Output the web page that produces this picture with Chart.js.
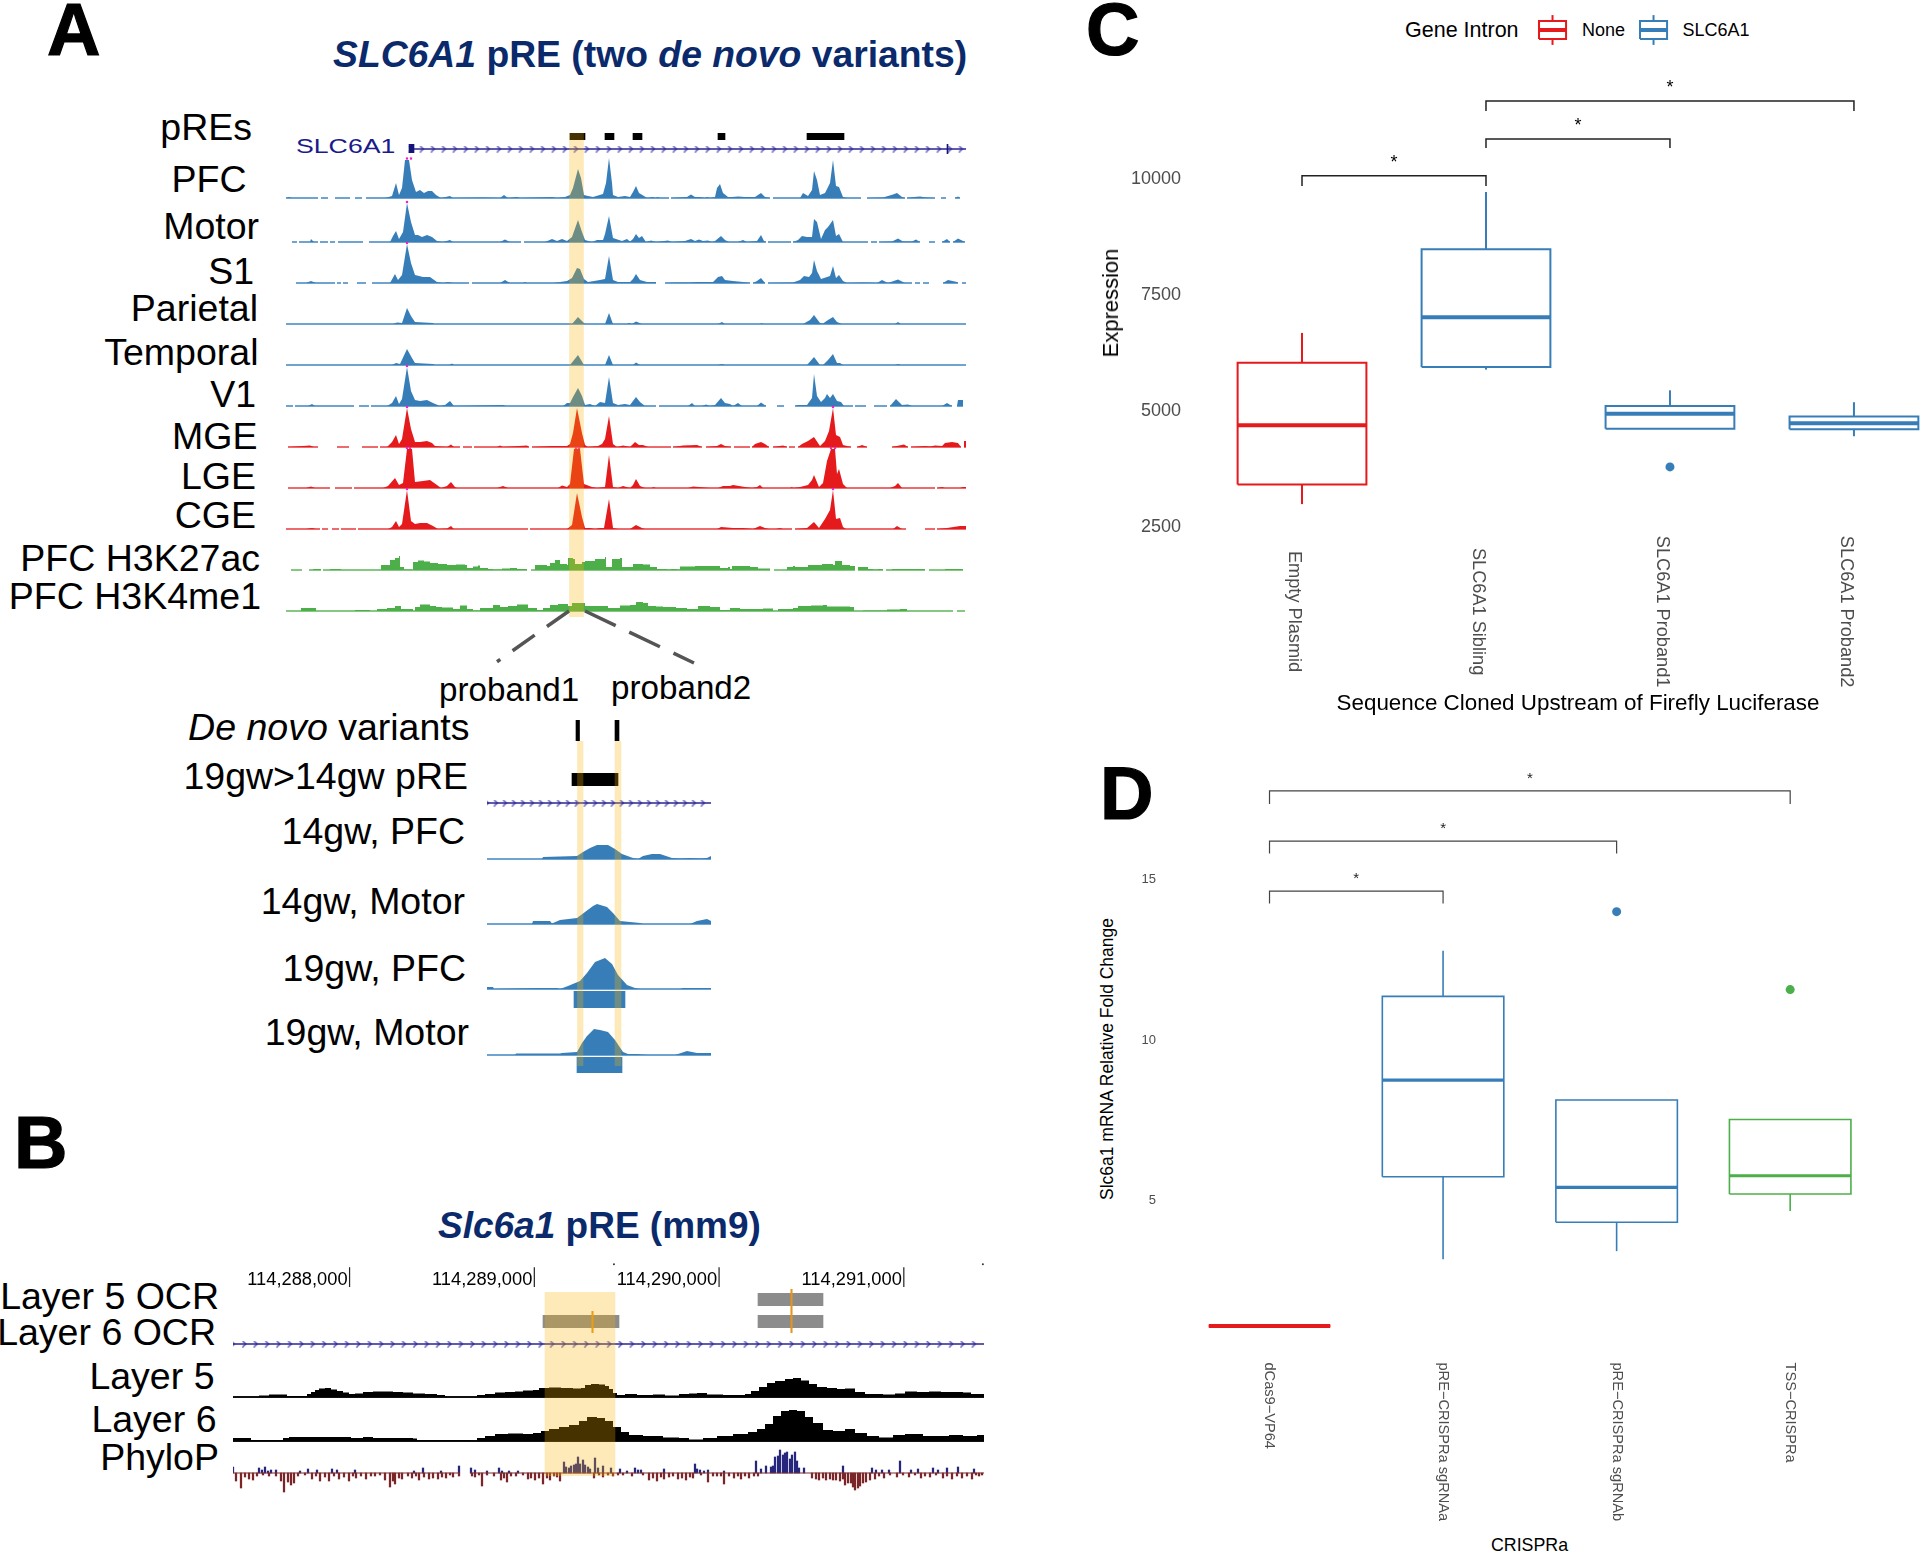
<!doctype html>
<html lang="en">
<head>
<meta charset="utf-8">
<title>SLC6A1 pRE</title>
<style>
  * { margin: 0; padding: 0; }
  body { background: #fff; font-family: "Liberation Sans", sans-serif; }
  #figure { position: relative; width: 1920px; height: 1555px; overflow: hidden; background: #fff; }
  #figure div { position: absolute; white-space: nowrap; line-height: 1; }
  .letter { font-weight: bold; -webkit-text-stroke: 1.2px #000; }
  .title { font-weight: bold; }
</style>
</head>
<body>
<div id="figure"></div>
<script src="https://cdn.jsdelivr.net/npm/chart.js/dist/chart.umd.min.js"></script>
<script>
// ---- panel A tracks: [position, signal], signal null = no data
const pfc = [[0,0],[3,1],[6,0],[32,0],[33,null],[35,0],[42,0],[43,null],[49,0],[64,0],[65,null],[69,0],[76,0],[77,null],[80,0],[99,0],[106,2],[110,15],[113,3],[116,10],[119,38],[123,38],[126,18],[130,6],[134,8],[138,5],[142,7],[146,7],[150,3],[155,0],[164,2],[167,0],[197,0.5],[214,0],[218,3],[222,0],[231,1],[234,0],[266,1],[271,0],[279,1],[284,3],[287,10],[292,29],[295,20],[298,3],[302,2],[307,1],[317,4],[320,15],[323,40],[326,15],[327,3],[332,1],[339,2],[344,1],[347,6],[350,12],[353,5],[358,2],[361,0],[367,1],[369,0],[372,1],[374,0],[383,0],[384,null],[385,0],[401,1],[405,3.5],[409,1],[414,1],[419,0],[421,1],[424,0],[429,1],[431,10],[434,14],[437,5],[442,1],[446,1],[452,1.5],[459,1],[469,1],[475,5],[479,1],[484,0],[485,null],[487,0],[514,0],[517,5],[522,2],[526,8],[528,27],[531,18],[534,3],[539,5],[544,15],[547,38],[550,12],[553,11],[557,1],[561,0],[575,0],[576,null],[581,0],[597,0.5],[607,3.5],[611,5],[616,1],[619,0],[620,null],[621,0],[628,1],[634,1.5],[640,0.5],[649,0],[650,null],[655,0],[660,0],[661,null],[669,0],[672,1.5],[674,0]];
const motor = [[6,0],[11,0],[12,null],[13,0],[24,0],[25,3],[28,0],[32,0],[33,null],[34,0],[42,0],[43,null],[44,0],[49,0],[50,null],[52,0],[77,0],[78,null],[83,0],[104,0],[107,6],[110,11],[113,3],[117,10],[121,39],[125,20],[129,7],[132,7],[136,5],[141,7],[146,5],[151,1],[157,0],[164,2],[167,0],[214,0],[219,2.5],[224,0],[235,0],[236,null],[238,0],[259,0],[266,3],[271,1],[276,3],[281,1],[286,5],[292,22],[296,10],[299,2],[306,0],[311,2],[317,2],[319,8],[323,26],[327,4],[336,1],[341,3],[344,0.5],[347,3],[350,8],[353,4],[356,6],[360,0],[365,1.5],[370,0],[382,1.5],[386,0],[399,1],[405,3],[409,1],[413,2.5],[417,1],[422,1.5],[426,0],[429,1],[435,6],[439,2],[443,0],[452,0],[457,2],[461,0],[471,1],[475,7],[478,1],[480,0],[481,null],[482,0],[505,0],[506,null],[507,0],[512,2],[516,6],[521,5],[526,5],[528,23],[531,20],[535,3],[539,12],[542,15],[547,22],[550,6],[553,8],[557,0],[582,0],[583,null],[585,0],[591,0],[592,null],[593,0],[606,0.5],[612,3.5],[617,0.5],[626,0.5],[630,2.5],[634,0],[635,null],[643,0],[649,0],[650,null],[656,0],[661,3],[664,0],[665,null],[667,0],[672,3.5],[679,0]];
const s1 = [[10,0],[20,0],[25,2],[30,0],[49,0],[50,null],[51,0],[55,0],[56,null],[57,0],[62,0],[63,null],[71,0],[80,0],[81,null],[86,0],[104,0],[109,9],[112,3],[116,8],[121,39],[125,20],[129,8],[137,6],[144,6],[151,1],[157,0],[162,1],[167,0],[183,0],[184,null],[186,0],[214,0],[219,3],[224,0],[237,0],[239,1],[241,0],[267,0],[281,2],[286,5],[291,15],[294,14],[298,4],[302,1],[314,3],[319,4],[323,27],[327,3],[332,1],[344,1],[347,4],[350,9],[354,3],[361,1],[370,1],[371,null],[379,0],[389,0.5],[404,0.5],[411,1],[427,1],[432,6],[436,7],[439,3],[447,2],[457,1],[464,0],[465,null],[467,0],[471,2],[475,5],[479,0],[480,null],[482,0],[507,0.5],[514,3],[518,7],[523,6],[526,10],[528,23],[531,12],[535,4],[541,6],[544,7],[547,17],[550,5],[553,8],[557,2],[561,0],[577,0.5],[591,0],[596,3],[602,0],[612,3.5],[619,0],[626,0],[627,null],[629,0],[634,0],[635,null],[637,0],[643,0],[644,null],[657,0],[662,3],[671,1],[672,0],[673,null],[676,0],[680,0]];
const parietal = [[0,0],[107,0],[111,1.5],[116,1],[121,16],[125,8],[129,2],[147,1],[148,0],[286,0],[292,7],[299,0],[319,0],[323,11],[327,0],[341,0],[343,1],[346,0],[350,2.5],[356,0],[432,0],[436,2],[439,0],[474,0],[476,1],[477,0],[517,0],[524,4],[528,9],[534,1],[537,0.5],[542,4],[547,7],[551,2],[556,0],[609,0],[612,2],[615,0],[680,0]];
const temporal = [[0,0],[106,0],[110,2],[114,1],[121,16],[126,7],[129,2],[147,1],[149,0],[163,0],[166,1.5],[168,0],[284,0],[292,10],[298,0],[319,0],[323,10],[327,0],[347,0],[350,2.5],[354,0],[432,0],[436,1],[439,0],[521,0],[528,8],[534,0],[537,0],[542,5],[547,11],[551,2],[554,2],[557,0],[609,0],[612,1],[615,0],[680,0]];
const v1 = [[0,0],[7,0],[8,null],[9,0],[22,0],[26,2],[29,0],[68,0],[69,null],[73,0],[83,0],[84,null],[85,0],[101,0],[106,3],[110,10],[113,2],[116,7],[121,39],[125,15],[129,6],[134,5],[141,6],[147,3],[154,0],[159,1],[164,5],[168,0],[217,1],[220,0],[277,0],[281,3],[284,3],[287,9],[292,18],[296,10],[299,1],[304,2],[309,0],[314,4],[319,3],[323,29],[327,3],[332,1],[339,2],[344,1],[350,9],[354,4],[359,0],[370,0],[371,null],[373,0],[402,0],[406,3],[409,0],[416,0],[420,1.5],[424,0],[429,1],[435,8],[439,3],[444,2],[447,0],[452,3],[456,0],[471,0],[475,3.5],[480,0],[481,null],[491,0],[498,0],[499,null],[509,0],[512,1],[521,1],[526,8],[528,32],[531,10],[535,4],[539,8],[541,12],[544,8],[547,12],[551,5],[555,4],[558,0],[567,0],[568,null],[569,0],[580,0],[581,null],[588,0],[601,0],[602,null],[604,0],[610,7],[616,1],[622,1.5],[626,0],[656,0],[661,3],[666,0],[667,null],[671,0],[672,6],[677,6],[677.5,null]];
const mge = [[2,0],[24,1.5],[28,0],[32,0],[33,null],[51,0],[63,0],[64,null],[76,0],[92,0],[93,null],[94,0],[101,0],[106,5],[110,12],[113,3],[116,8],[121,39],[125,18],[129,5],[134,5],[141,6],[146,4],[149,1],[154,0.5],[161,0],[165,2.5],[168,0],[174,0],[175,null],[177,0],[186,0],[187,null],[188,0],[211,0],[214,1.5],[217,0],[241,1.5],[243,0],[244,null],[246,0],[266,1],[281,1],[284,3],[287,14],[291,39],[296,14],[299,2],[302,0],[312,1],[316,3],[319,8],[323,31],[327,3],[331,0],[337,1.5],[344,0],[349,5],[353,2],[357,2],[362,0],[385,0],[386,null],[387,0],[397,1.5],[411,2],[416,0],[417,null],[420,0],[431,1],[435,3],[439,1],[445,0],[446,null],[448,0],[464,0],[465,null],[466,0],[469,3],[475,5],[479,3],[483,0],[484,null],[487,0],[497,1.5],[501,0],[502,null],[503,0],[509,0],[510,null],[512,0],[516,3],[522,6],[528,10],[534,1],[539,6],[543,16],[547,39],[550,12],[554,10],[557,2],[561,1],[565,0],[566,null],[571,0],[576,2],[581,0],[582,null],[606,0],[618,2.5],[622,0],[623,null],[625,0],[639,1],[644,0.5],[649,1.5],[656,1],[659,4],[666,5],[672,4],[675,0],[676,null],[678,6],[680,6]];
const lge = [[2,0],[20,0],[25,1.5],[29,0],[44,0],[45,null],[49,0],[66,0],[67,null],[68,0],[97,0],[102,2],[109,10],[113,3],[117,5],[121,39],[126,39],[129,6],[137,7],[144,8],[151,3],[155,0],[161,2],[165,6],[169,1],[171,0],[211,0],[217,2],[222,0],[272,0],[276,2.5],[281,1],[284,4],[288,39],[294,39],[298,4],[306,1],[311,0],[319,1],[323,33],[327,1],[332,0],[337,2],[344,0],[347,3],[350,9],[354,2],[359,0],[366,0],[367,1],[370,0],[402,0],[407,1.5],[424,0],[432,0],[437,2],[444,2],[447,3],[459,1],[466,0],[471,1],[474,3],[477,0],[504,0],[506,1],[507,0],[514,1],[522,3],[526,8],[528,13],[533,1],[537,5],[541,27],[545,39],[549,39],[551,14],[553,19],[557,4],[561,0],[604,0],[609,2],[612,5],[616,0],[649,0],[650,null],[651,0],[656,1],[659,0],[674,0],[677,1],[680,1]];
const cge = [[0,0],[20,0],[26,1],[30,0],[34,0],[35,null],[36,0],[42,0],[43,null],[46,0],[53,0],[54,null],[55,0],[70,0],[71,null],[72,0],[102,0],[106,2],[110,8],[113,2],[116,5],[121,39],[125,8],[129,5],[134,6],[141,6],[147,3],[152,0],[161,0.5],[165,3],[168,0],[242,0],[243,null],[244,0],[281,0],[286,4],[291,36],[296,12],[299,1],[304,1],[309,0],[314,1],[318,1],[323,30],[327,1],[332,0],[344,0],[350,4],[356,1],[359,0],[431,0],[435,2],[447,1],[457,1],[467,0],[474,3],[479,1],[483,0],[490,0],[494,1],[497,0],[506,0],[507,null],[509,0],[521,1],[528,7],[533,1],[539,10],[544,19],[547,39],[550,10],[554,11],[557,2],[560,0],[607,0],[611,3],[616,0],[620,0],[621,null],[639,0],[649,0],[650,null],[651,0],[661,1],[674,3],[680,3]];
const h3k27ac = [[5,0],[16,0],[17,null],[23,0],[27,1],[35,1],[36,null],[37,0],[44,1],[52,1],[55,0],[94,0],[95,5],[103,5],[104,10],[109,12],[113,14],[114,3],[118,0.5],[126,0],[127,8],[132,9.5],[138,8.5],[144,7],[152,6],[161,5],[170,5.5],[179,5],[181,2],[187,3.5],[192,4.5],[194,2],[202,1],[207,0.5],[216,1.5],[224,2],[231,1],[241,0],[242,null],[245,0],[249,5],[261,4],[264,7],[269,10],[272,10],[274,6],[281,5],[282,12],[287,11],[289,6],[296,8],[299,9],[309,11],[319,13],[320,3],[325,3],[326,11],[334,12],[336,3],[344,3],[347,6],[357,5.5],[364,3],[371,1],[381,0.5],[385,1],[391,0.5],[394,3.5],[409,4],[424,4],[434,2],[442,3],[444,1],[446,4],[464,3],[472,1.5],[484,1],[485,null],[488,0],[501,3],[507,4],[509,3],[521,3],[522,5],[536,6],[547,5],[549,9],[554,9],[556,5],[564,4],[569,0],[570,null],[572,3],[582,1],[587,0.5],[592,1],[597,0],[598,null],[600,0],[606,1],[639,0],[640,null],[643,0],[659,1],[677,0]];
const h3k4me1 = [[0,0],[14,0],[15,3],[29,3],[30,0],[64,0],[69,1],[84,0],[91,2],[101,3],[109,5],[113,5],[115,2],[127,0],[129,4],[134,6.5],[144,5],[150,4],[156,3.5],[167,2],[174,5.5],[181,2],[187,0.5],[194,3],[207,6],[214,4],[222,5],[231,6.5],[242,3],[251,1],[257,3],[264,6],[272,7],[282,5],[286,8],[296,8],[299,5],[311,5],[322,3],[334,5.5],[344,6],[350,9],[357,8],[362,5],[370,4.5],[377,4],[390,3],[401,2],[412,5],[424,4],[434,1],[444,3],[454,2],[477,2.5],[487,0],[492,2],[507,3],[512,5],[525,5.5],[537,6],[541,4.5],[564,4],[568,0],[577,0.5],[601,1.5],[614,2],[621,0],[667,0],[668,null],[671,0],[679,1]];
// saturated peak caps
const pfcCaps = [[121,39.5],[125,39.5]];
const motorCaps = [[121,40]];
const s1Caps = [[121,40]];
const v1Caps = [[121,40]];
const mgeCaps = [[121,40],[547,40]];
const lgeCaps = [[121,40],[124,40],[290,40],[293,40],[545,40],[549,40]];
const cgeCaps = [[121,40],[547,40]];

// ---- panel A, zoomed pRE tracks
const pfc14 = [[0,0],[45,0],[55,0],[56,2],[90,3],[96,7],[103,11],[110,14],[121,14],[128,10],[135,5],[146,1],[151,0],[156,3],[165,5],[173,5],[185,1],[193,0.5],[203,1],[213,0.5],[220,1],[224,3]];
const motor14 = [[0,0],[45,0],[46,3],[63,3],[65,0.5],[73,4],[90,6],[98,12],[106,18],[110,20],[120,17],[126,11],[133,3],[143,2],[153,1],[156,0],[203,0],[210,3],[220,5],[224,3]];
const pfc19 = [[0,2],[6,2],[7,0],[51,1],[70,1],[73,0],[81,3],[93,8],[100,16],[108,27],[118,31],[125,25],[131,14],[140,4],[148,1],[153,0],[193,0],[196,1],[224,1]];
const motor19 = [[0,0],[28,0],[29,1.5],[73,1.5],[75,2],[90,3],[95,12],[100,19],[107,26],[113,25],[121,23],[128,15],[136,3],[141,1],[150,1],[160,0],[188,0],[200,4],[210,2],[224,2]];

// ---- panel B tracks
const layer5 = [[0,0],[24,0],[26,1.5],[36,2.5],[50,2.5],[54,1],[70,1],[74,3],[78,5],[82,7],[86,8.5],[92,9],[98,7.5],[104,6],[110,4.5],[116,3],[122,3.5],[130,5],[140,5.5],[150,5.5],[160,5],[170,4.5],[180,3.5],[192,3],[204,2],[212,0.5],[214,0],[242,0],[244,2],[252,3],[262,4.5],[272,5],[282,5.5],[290,6.5],[300,7],[306,9],[316,9.5],[328,9],[340,8.5],[348,9],[352,12],[358,13],[366,12.5],[372,11],[376,8],[380,4],[384,2],[392,3],[404,2],[420,2.5],[432,1.5],[446,3],[456,3.5],[464,4],[474,2.5],[490,2],[504,2],[512,3],[518,6],[526,10],[534,14],[542,16],[552,18],[560,19],[568,16.5],[576,13],[584,10],[594,9],[604,8],[612,8.5],[622,5],[632,3],[650,2.5],[662,3.5],[672,5.5],[684,5],[696,5.5],[708,5],[720,5],[730,4.5],[738,3],[751,2.5]];
const layer6 = [[0,3],[16,3],[18,1],[46,1],[50,3],[56,4],[80,4],[110,4],[118,3],[130,4],[140,3],[160,3],[180,2.5],[184,1],[238,0.5],[244,3],[252,5],[262,7],[275,7.5],[290,7],[300,8],[308,10],[316,12],[326,14],[336,16],[346,20],[354,24],[364,23],[372,20],[380,14],[388,9],[396,6],[410,5],[430,3.5],[446,3],[456,1.5],[470,3],[484,5],[500,7],[515,9],[524,12],[532,17],[540,25],[548,30],[556,31],[564,30],[572,24],[580,18],[590,11],[600,10],[612,12],[622,8],[634,5],[646,3.5],[660,6],[672,7],[690,5],[704,5],[716,6],[730,5],[744,6],[751,7]];
const phyloDown = [[3,-8],[8,-15],[12,-4],[16,-6],[20,-7],[24,-3],[30,-2],[36,-3],[43,-3],[48,-8],[51,-19],[55,-9],[58,-12],[61,-10],[65,-3],[72,-2],[79,-6],[83,-3],[87,-8],[92,-4],[96,-8],[101,-3],[106,-6],[111,-4],[116,-8],[120,-3],[123,-5],[128,-3],[133,-6],[138,-3],[142,-3],[147,-2],[152,-7],[157,-14],[160,-8],[162,-11],[166,-5],[169,-6],[175,-3],[179,-5],[183,-3],[186,-7],[191,-4],[196,-6],[200,-5],[205,-6],[209,-4],[213,-5],[217,-2],[220,-4],[226,-3],[239,-3],[242,-4],[246,-2],[249,-13],[254,-2],[261,-3],[268,-7],[271,-5],[274,-9],[278,-3],[283,-3],[290,-2],[295,-6],[298,-5],[302,-7],[306,-5],[310,-11],[314,-5],[317,-7],[321,-3],[324,-4],[327,-8],[361,-5],[366,-2],[370,-4],[375,-2],[380,-3],[385,-2],[390,-2],[399,-3],[410,-2],[416,-7],[420,-5],[424,-8],[428,-4],[431,-6],[436,-4],[440,-3],[445,-6],[449,-5],[453,-7],[457,-4],[460,-5],[468,-2],[475,-9],[480,-3],[484,-3],[488,-3],[491,-11],[496,-3],[501,-5],[505,-3],[508,-6],[512,-3],[516,-5],[521,-3],[525,-3],[579,-5],[583,-6],[586,-7],[590,-5],[593,-7],[597,-6],[600,-7],[603,-7],[607,-8],[610,-6],[612,-12],[615,-10],[618,-10],[620,-14],[622,-17],[625,-15],[627,-13],[630,-10],[633,-9],[637,-7],[642,-6],[646,-3],[651,-5],[657,-2],[664,-4],[670,-2],[676,-4],[682,-2],[688,-5],[692,-3],[697,-4],[703,-2],[710,-5],[714,-3],[719,-6],[724,-3],[729,-5],[734,-3],[739,-6],[743,-2],[746,-3],[749,-2]];
const phyloUp = [[0,6],[26,5],[29,3],[32,6],[35,2],[38,3],[43,3],[67,2],[75,4],[84,3],[99,4],[104,3],[122,3],[181,2],[190,5],[208,2],[226,7],[238,5],[242,3],[254,2],[266,5],[269,2],[276,2],[285,2],[331,11],[333,6],[336,5],[338,7],[341,8],[343,9],[345,16],[347,9],[350,13],[352,8],[355,6],[357,4],[362,15],[365,5],[370,7],[378,5],[387,4],[394,2],[402,5],[405,3],[408,3],[431,4],[462,9],[464,4],[467,3],[471,2],[475,3],[491,2],[523,12],[528,4],[533,7],[538,6],[540,7],[542,16],[545,17],[547,23],[550,18],[552,20],[554,21],[557,14],[559,18],[562,21],[564,12],[566,5],[571,5],[610,7],[639,5],[643,3],[649,3],[656,3],[667,12],[678,3],[685,4],[700,5],[705,3],[714,5],[725,6],[741,4]];
const phyloSpans = [[0,227],[237,751]];
const rulerTicks = [114288000, 114289000, 114290000, 114291000];
const rulerDots = [114289431, 114291428];

// ---- intervals [start, end]
const pREs = [[284,299],[319,328],[347,356],[432,439],[521,535],[535,558]];
const denovoSites = [[89,92.5],[128,132]];
const denovoPre = [[85,131]];
const denovoBands = [[90.5,96],[128,134]];
const peakCallPfc = [[87,138]];
const peakCallMotor = [[90,135]];
const geneExonA = [[123,128]];
const geneEndA = [[661,662]];
const l5Ocr = [[525,590]];
const l6Ocr = [[310,386],[525,590]];
const ocrSnpLeft = [[358.8,360.2]];
const ocrSnpRight = [[557.8,559.2]];

// ---- panel C
const cCategories = ['Empty Plasmid', 'SLC6A1 Sibling', 'SLC6A1 Proband1', 'SLC6A1 Proband2'];
const cTicks = [2500, 5000, 7500, 10000];
const emptyStats = [2935, 3360, 4634, 5980, 6622];
const siblingStats = [5832, 5890, 6958, 8423, 9658];
const proband1Stats = [4557, 4557, 4882, 5050, 5386];
const proband2Stats = [4397, 4546, 4675, 4823, 5130];
const proband1Outliers = [3736];
const cBrackets = [[0, 1, 10005, 9787], [1, 2, 10798, 10604], [1, 3, 11615, 11400]];

// ---- panel D
const dCategories = ['dCas9\u2212VP64', 'pRE\u2212CRISPRa sgRNAa', 'pRE\u2212CRISPRa sgRNAb', 'TSS\u2212CRISPRa'];
const dTicks = [5, 10, 15];
const dcasStats = [1.02, 1.02, 1.02, 1.02, 1.02];
const sgaStats = [3.10, 5.67, 8.68, 11.29, 12.71];
const sgbStats = [3.35, 4.25, 5.34, 8.06, 8.06];
const tssStats = [4.60, 5.13, 5.70, 7.45, 7.45];
const sgbOutliers = [13.93];
const tssOutliers = [11.5];
const dBrackets = [[0, 1, 14.57, 14.18], [0, 2, 16.13, 15.74], [0, 3, 17.69, 17.28]];

const BLUE = '#377eb8', RED = '#e41a1c', GREEN = '#4daf4a';
const BLUE_BASE = '#6fa3d0', RED_BASE = '#ee6b6d', GREEN_BASE = '#85c882';
const BAND = 'rgba(250, 180, 0, 0.28)';
const NAVY = '#0b2a6b';

Chart.defaults.font.family = '"Liberation Sans", sans-serif';
const fig = document.getElementById('figure');

function addCanvas(left, top, width, height) {
  const c = document.createElement('canvas');
  c.width = width;
  c.height = height;
  c.style.cssText = `position:absolute;left:${left}px;top:${top}px`;
  fig.appendChild(c);
  return c;
}

function addText(html, x, y, size, opts = {}) {
  const d = document.createElement('div');
  d.innerHTML = html;
  const shift = opts.align === 'right' ? 'translate(-100%,-50%)' : opts.align === 'center' ? 'translate(-50%,-50%)' : 'translateY(-50%)';
  d.style.cssText = `left:${x}px;top:${y}px;font-size:${size}px;color:${opts.color || '#000'};transform:${shift} ${opts.extra || ''};transform-origin:${opts.origin || '50% 50%'}`;
  if (opts.cls) d.className = opts.cls;
  fig.appendChild(d);
}

function baseOptions(xMin, xMax, yMin, yMax) {
  return {
    responsive: false,
    animation: false,
    events: [],
    layout: { autoPadding: false },
    plugins: { legend: { display: false }, tooltip: { enabled: false } },
    scales: {
      x: { type: 'linear', display: false, min: xMin, max: xMax },
      y: { type: 'linear', display: false, min: yMin, max: yMax }
    }
  };
}

// places text at data coordinates of a chart
function textAt(items) {
  return {
    id: 'textAt',
    afterDatasetsDraw(chart) {
      const { ctx, scales } = chart;
      items.forEach(t => {
        ctx.save();
        ctx.translate(scales.x.getPixelForValue(t.x), scales.y.getPixelForValue(t.y));
        if (t.rotate) ctx.rotate(t.rotate);
        ctx.font = t.font;
        ctx.fillStyle = t.color || '#000';
        ctx.textAlign = t.align || 'center';
        ctx.textBaseline = t.baseline || 'middle';
        ctx.fillText(t.text, t.dx || 0, t.dy || 0);
        ctx.restore();
      });
    }
  };
}

// one genome signal track; the base argument is where signal 0 sits
function track(left, base, width, yTop, signal, fill, line, caps, stepped = false) {
  const pts = signal.map(p => ({ x: p[0], y: p[1] }));
  const datasets = [
    { data: pts, borderWidth: 0, pointRadius: 0, fill: 'origin', backgroundColor: fill, tension: 0, spanGaps: false, stepped },
    { data: pts.map(p => ({ x: p.x, y: p.y === null ? null : 0 })), borderColor: line, borderWidth: 2, pointRadius: 0, spanGaps: false }
  ];
  if (caps) {
    datasets.push({ data: caps.map(p => ({ x: p[0], y: p[1] })), showLine: false, pointStyle: 'rect', pointRadius: 1.6, backgroundColor: '#f020d0', borderWidth: 0 });
  }
  new Chart(addCanvas(left, base - yTop, width, yTop + 2), { type: 'line', data: { datasets }, options: baseOptions(0, width, -2, yTop) });
}

// horizontal floating bars in track coordinates
function intervals(left, top, width, height, xMax, spans, color) {
  const options = baseOptions(0, xMax, 0, 1);
  options.indexAxis = 'y';
  options.scales.y = { type: 'category', display: false };
  const datasets = spans.map(s => ({ data: [s], backgroundColor: color, barPercentage: 1, categoryPercentage: 1, grouped: false, borderWidth: 0 }));
  new Chart(addCanvas(left, top, width, height), { type: 'bar', data: { labels: [''], datasets }, options });
}

function chevron() {
  const c = document.createElement('canvas');
  c.width = 7; c.height = 7;
  const g = c.getContext('2d');
  g.strokeStyle = '#4640ac';
  g.lineWidth = 1.2;
  g.beginPath(); g.moveTo(1.5, 0.5); g.lineTo(5, 3.5); g.lineTo(1.5, 6.5); g.stroke();
  return c;
}

function geneLine(left, y, width, from, to, step) {
  const marks = [];
  for (let x = from; x <= to; x += step) marks.push({ x, y: 0 });
  new Chart(addCanvas(left, y - 5, width, 10), {
    type: 'line',
    data: { datasets: [
      { data: [{ x: from, y: 0 }, { x: to, y: 0 }], borderColor: '#2a2490', borderWidth: 1.4, pointRadius: 0 },
      { data: marks, showLine: false, pointStyle: chevron(), pointRadius: 3 }
    ] },
    options: baseOptions(0, width, -1, 1)
  });
}

function boxDatasets(pos, half, stats, color, outliers, weight = 2) {
  const [low, q1, med, q3, high] = stats;
  const line = (data, w) => ({ data, borderColor: color, borderWidth: w, pointRadius: 0, tension: 0, borderCapStyle: 'butt' });
  const sets = [
    line([{ x: pos, y: q3 }, { x: pos, y: high }], weight),
    line([{ x: pos, y: low }, { x: pos, y: q1 }], weight),
    line([{ x: pos - half, y: q1 }, { x: pos + half, y: q1 }, { x: pos + half, y: q3 }, { x: pos - half, y: q3 }, { x: pos - half, y: q1 }], weight),
    line([{ x: pos - half, y: med }, { x: pos + half, y: med }], weight * 2)
  ];
  if (outliers) sets.push({ data: outliers.map(v => ({ x: pos, y: v })), showLine: false, pointRadius: 4.5, backgroundColor: color, borderWidth: 0 });
  return sets;
}

function bracketDatasets(list, color, w) {
  return list.map(b => ({
    data: [{ x: b[0], y: b[3] }, { x: b[0], y: b[2] }, { x: b[1], y: b[2] }, { x: b[1], y: b[3] }],
    borderColor: color, borderWidth: w, pointRadius: 0, tension: 0
  }));
}

function boxPlot(box, axisWidth, xRange, yRange, padBottom, ticks, tickFont, datasets, labels) {
  const options = baseOptions(xRange[0], xRange[1], yRange[0], yRange[1]);
  options.layout = { autoPadding: false, padding: { bottom: padBottom } };
  options.scales.y = {
    type: 'linear', min: yRange[0], max: yRange[1],
    grid: { display: false }, border: { display: false },
    ticks: { color: '#4d4d4d', font: { size: tickFont }, padding: -4, labelOffset: 2.5, callback: v => String(v) },
    afterBuildTicks: s => { s.ticks = ticks.map(v => ({ value: v })); },
    afterFit: s => { s.width = axisWidth; s.paddingTop = 0; s.paddingBottom = 0; }
  };
  new Chart(addCanvas(box[0], box[1], box[2], box[3]), { type: 'line', data: { datasets }, options, plugins: [textAt(labels)] });
}

// ==== panel letters and titles
addText('A', 47, 29.5, 74, { cls: 'letter' });
addText('B', 14, 1143, 74, { cls: 'letter' });
addText('C', 1086, 30, 74, { cls: 'letter' });
addText('D', 1100, 794, 74, { cls: 'letter' });
addText('<i>SLC6A1</i> pRE (two <i>de novo</i> variants)', 333, 55, 37.3, { cls: 'title', color: NAVY });
addText('<i>Slc6a1</i> pRE (mm9)', 438, 1225, 37, { cls: 'title', color: NAVY });

// ==== panel A
[['pREs', 252, 128], ['PFC', 246.5, 180], ['Motor', 259, 227], ['S1', 254, 272], ['Parietal', 258, 309],
 ['Temporal', 258.5, 353], ['V1', 256, 395], ['MGE', 257.5, 437], ['LGE', 256, 477], ['CGE', 256, 516],
 ['PFC H3K27ac', 260, 559], ['PFC H3K4me1', 261, 597],
 ['<i>De novo</i> variants', 469.5, 728], ['19gw&gt;14gw pRE', 468, 777], ['14gw, PFC', 465, 832],
 ['14gw, Motor', 465, 902], ['19gw, PFC', 466, 969], ['19gw, Motor', 469, 1033],
 ['Layer 5 OCR', 219, 1297], ['Layer 6 OCR', 216, 1333], ['Layer 5', 214.5, 1377], ['Layer 6', 216.5, 1420], ['PhyloP', 219, 1458]
].forEach(t => addText(t[0], t[1], t[2], 37.5, { align: 'right' }));
addText('proband1', 439, 690, 33.2);
addText('proband2', 611, 688, 33.2);
addText('SLC6A1', 296, 145, 21, { color: '#1a1a8c', extra: 'scaleX(1.27)', origin: '0 50%' });

intervals(286, 133, 680, 7, 680, pREs, '#000');
geneLine(286, 149, 680, 125, 680, 11);
intervals(286, 144, 680, 9, 680, geneExonA, '#14147a');
intervals(286, 144, 680, 10, 680, geneEndA, '#14147a');

track(286, 197.7, 680, 42, pfc, BLUE, BLUE_BASE, pfcCaps);
track(286, 241.7, 680, 42, motor, BLUE, BLUE_BASE, motorCaps);
track(286, 282.7, 680, 42, s1, BLUE, BLUE_BASE, s1Caps);
track(286, 323.7, 680, 42, parietal, BLUE, BLUE_BASE);
track(286, 364.5, 680, 42, temporal, BLUE, BLUE_BASE);
track(286, 406, 680, 42, v1, BLUE, BLUE_BASE, v1Caps);
track(286, 447, 680, 42, mge, RED, RED_BASE, mgeCaps);
track(286, 488, 680, 42, lge, RED, RED_BASE, lgeCaps);
track(286, 528.7, 680, 42, cge, RED, RED_BASE, cgeCaps);
track(286, 570, 680, 42, h3k27ac, GREEN, GREEN_BASE, null, true);
track(286, 611, 680, 42, h3k4me1, GREEN, GREEN_BASE, null, true);
intervals(286, 133, 680, 484, 680, [[283.5, 297.5]], BAND);

// dashed zoom lines from the pRE to the close-up
const zoomOpts = baseOptions(0, 680, 0, 65);
zoomOpts.scales.y.reverse = true;
new Chart(addCanvas(286, 605, 680, 65), {
  type: 'line',
  data: { datasets: [
    { data: [{ x: 283, y: 6 }, { x: 211, y: 56.7 }], borderColor: '#555', borderWidth: 3.5, borderDash: [27, 15], pointRadius: 0 },
    { data: [{ x: 299, y: 6 }, { x: 408, y: 58 }], borderColor: '#555', borderWidth: 3.5, borderDash: [34, 15], pointRadius: 0 }
  ] },
  options: zoomOpts
});

intervals(487, 720, 224, 21, 224, denovoSites, '#000');
intervals(487, 773, 224, 13, 224, denovoPre, '#000');
geneLine(487, 803, 224, 0, 224, 9);
track(487, 858.7, 224, 34, pfc14, BLUE, BLUE_BASE);
track(487, 923.7, 224, 34, motor14, BLUE, BLUE_BASE);
track(487, 989, 224, 34, pfc19, BLUE, BLUE_BASE);
track(487, 1055, 224, 34, motor19, BLUE, BLUE_BASE);
intervals(487, 991, 224, 17, 224, peakCallPfc, BLUE);
intervals(487, 1057, 224, 16, 224, peakCallMotor, BLUE);
intervals(487, 741, 224, 325, 224, denovoBands, BAND);

// ==== panel B
const rulerOpts = baseOptions(114287369, 114291434, 0, 1);
rulerOpts.scales.y.reverse = true;
const rulerLabels = rulerTicks.map(v => ({ x: v, y: 0.66, text: v.toLocaleString('en-US'), font: '18.3px "Liberation Sans"', align: 'right', dx: -2 }));
new Chart(addCanvas(233, 1260, 751, 30), {
  type: 'line',
  data: { datasets: [
    ...rulerTicks.map(v => ({ data: [{ x: v, y: 0.24 }, { x: v, y: 0.9 }], borderColor: '#222', borderWidth: 1.2, pointRadius: 0 })),
    { data: rulerDots.map(v => ({ x: v, y: 0.14 })), showLine: false, pointRadius: 1, backgroundColor: '#333', borderWidth: 0 }
  ] },
  options: rulerOpts,
  plugins: [textAt(rulerLabels)]
});
intervals(233, 1293, 751, 13, 751, l5Ocr, '#8c8c8c');
intervals(233, 1315, 751, 13, 751, l6Ocr, '#8c8c8c');
intervals(233, 1311, 751, 22, 751, ocrSnpLeft, '#e6951c');
intervals(233, 1289, 751, 44, 751, ocrSnpRight, '#e6951c');
geneLine(233, 1344, 751, 0, 751, 11.4);
track(233, 1396.7, 751, 34, layer5, '#000', '#111', null, true);
track(233, 1440.7, 751, 34, layer6, '#000', '#111', null, true);

const phyloOpts = baseOptions(0, 751, -22, 26);
phyloOpts.scales.x.offset = false;
new Chart(addCanvas(233, 1447, 751, 48), {
  type: 'bar',
  data: { datasets: [
    { type: 'line', data: phyloSpans.flatMap(s => [{ x: s[0], y: 0 }, { x: s[1], y: 0 }, { x: s[1] + 1, y: null }]), borderColor: '#7a2f33', borderWidth: 1, pointRadius: 0, spanGaps: false },
    { data: phyloDown.map(p => ({ x: p[0], y: p[1] })), backgroundColor: '#7a2528', barThickness: 1.6, grouped: false },
    { data: phyloUp.map(p => ({ x: p[0], y: p[1] })), backgroundColor: '#26267e', barThickness: 1.6, grouped: false }
  ] },
  options: phyloOpts
});
intervals(233, 1292, 751, 184, 751, [[312, 382]], BAND);

// ==== panel C
addText('Gene Intron', 1405, 30.5, 21.5);
addText('None', 1582, 30, 18);
addText('SLC6A1', 1682.5, 30, 18);
new Chart(addCanvas(1530, 13, 150, 34), {
  type: 'line',
  data: { datasets: [...boxDatasets(0, 0.134, [0, 0.2, 0.5, 0.8, 1], RED), ...boxDatasets(1, 0.134, [0, 0.2, 0.5, 0.8, 1], BLUE)] },
  options: baseOptions(-0.223, 1.262, -0.07, 1.07)
});

const starC = cBrackets.map(b => ({ x: (b[0] + b[1]) / 2, y: b[2], text: '*', font: '18px "Liberation Sans"', dy: -13 }));
const catC = cCategories.map((t, i) => ({ x: i, y: 620, text: t, font: '18.2px "Liberation Sans"', color: '#4d4d4d', rotate: Math.PI / 2, baseline: 'top', dy: -1 }));
boxPlot([1120, 70, 800, 640], 65, [-0.636, 3.359], [2162, 12285], 170, cTicks, 18,
  [...boxDatasets(0, 0.35, emptyStats, RED),
   ...boxDatasets(1, 0.35, siblingStats, BLUE),
   ...boxDatasets(2, 0.35, proband1Stats, BLUE, proband1Outliers),
   ...boxDatasets(3, 0.35, proband2Stats, BLUE),
   ...bracketDatasets(cBrackets, '#222', 1.5)],
  [...starC, ...catC]);
addText('Expression', 1111, 302.5, 22, { align: 'center', extra: 'rotate(-90deg)' });
addText('Sequence Cloned Upstream of Firefly Luciferase', 1578, 702.5, 22.4, { align: 'center' });

// ==== panel D
const starD = dBrackets.map(b => ({ x: (b[0] + b[1]) / 2, y: b[2], text: '*', font: '15px "Liberation Sans"', color: '#222', dy: -12 }));
const catD = dCategories.map((t, i) => ({ x: i, y: -0.12, text: t, font: '14.6px "Liberation Sans"', color: '#4d4d4d', rotate: Math.PI / 2, align: 'left' }));
boxPlot([1120, 760, 800, 770], 40, [-0.631, 3.748], [0.581, 18.655], 190, dTicks, 13,
  [...boxDatasets(0, 0.35, dcasStats, RED),
   ...boxDatasets(1, 0.35, sgaStats, BLUE, null, 1.6),
   ...boxDatasets(2, 0.35, sgbStats, BLUE, sgbOutliers, 1.6),
   ...boxDatasets(3, 0.35, tssStats, GREEN, tssOutliers, 1.6),
   ...bracketDatasets(dBrackets, '#444', 1.2)],
  [...starD, ...catD]);
addText('Slc6a1 mRNA Relative Fold Change', 1108, 1059, 17.5, { align: 'center', extra: 'rotate(-90deg)' });
addText('CRISPRa', 1529.5, 1546, 17.8, { align: 'center' });
</script>
</body>
</html>
